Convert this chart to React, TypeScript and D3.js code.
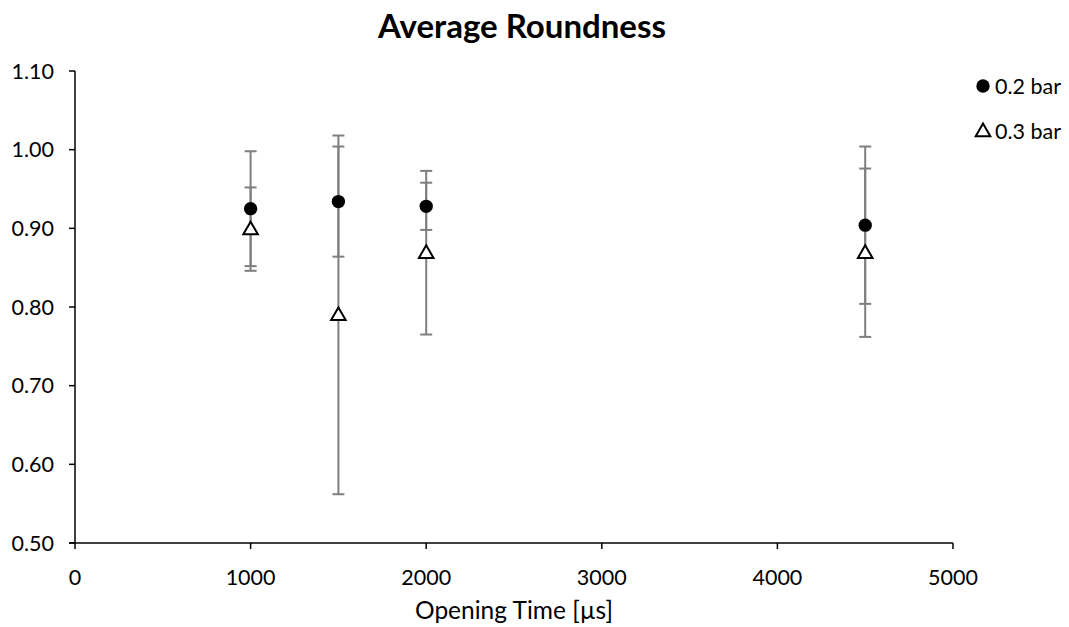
import React from 'react';
import * as d3 from 'd3';

// opening times [µs]
const times = [1000, 1500, 2000, 4500];
// 0.2 bar series
const mean02 = [0.925, 0.934, 0.928, 0.904];
const err02 = [0.073, 0.07, 0.03, 0.1];
// 0.3 bar series
const mean03 = [0.899, 0.79, 0.869, 0.869];
const err03 = [0.053, 0.228, 0.104, 0.107];

const xTicks = [0, 1000, 2000, 3000, 4000, 5000];
const yTicks = [0.5, 0.6, 0.7, 0.8, 0.9, 1.0, 1.1];

const W = 1069;
const H = 627;
const FONT = 'Lato, "Open Sans", sans-serif';

export default function App() {
  const x = d3.scaleLinear().domain([0, 5000]).range([75, 953]);
  const y = d3.scaleLinear().domain([0.5, 1.1]).range([543, 71]);

  const series = [
    { name: '0.2 bar', mean: mean02, err: err02, shape: 'circle' },
    { name: '0.3 bar', mean: mean03, err: err03, shape: 'triangle' },
  ];

  const circlePath = d3.symbol(d3.symbolCircle, 140)()!;
  const triPath = d3.symbol(d3.symbolTriangle, 92)()!;

  const marker = (shape: string, cx: number, cy: number, key: string) =>
    shape === 'circle' ? (
      <path key={key} d={circlePath} transform={`translate(${cx},${cy})`} fill="#000" />
    ) : (
      <path key={key} d={triPath} transform={`translate(${cx},${cy + 1})`} fill="#fff" stroke="#000" strokeWidth={2} />
    );

  const capW = 6;

  return (
    <svg width={W} height={H} style={{ position: 'absolute', left: 0, top: 0, background: '#fff' }} fontFamily={FONT}>
      <text x={522} y={38} textAnchor="middle" fontSize={33} fontWeight="bold" fill="#000">
        Average Roundness
      </text>

      {/* y axis */}
      <line x1={x(0)} x2={x(0)} y1={y(1.1)} y2={y(0.5)} stroke="#000" strokeWidth={1.5} />
      {yTicks.map(t => (
        <g key={t}>
          <line x1={x(0) - 6} x2={x(0)} y1={y(t)} y2={y(t)} stroke="#000" strokeWidth={1.5} />
          <text x={54} y={y(t)} dy="0.35em" textAnchor="end" fontSize={21.5} fill="#000">
            {t.toFixed(2)}
          </text>
        </g>
      ))}

      {/* x axis */}
      <line x1={x(0) - 6} x2={x(5000)} y1={y(0.5)} y2={y(0.5)} stroke="#000" strokeWidth={1.5} />
      {xTicks.map(t => (
        <g key={t}>
          <line x1={x(t)} x2={x(t)} y1={y(0.5)} y2={y(0.5) + 6} stroke="#000" strokeWidth={1.5} />
          <text x={x(t)} y={577} dy="0.35em" textAnchor="middle" fontSize={21.5} fill="#000">
            {t}
          </text>
        </g>
      ))}
      <text x={514} y={610} dy="0.35em" textAnchor="middle" fontSize={24.5} fill="#000">
        Opening Time [µs]
      </text>

      {/* error bars */}
      {series.map(s =>
        times.map((t, i) => {
          const cx = x(t);
          const top = y(s.mean[i] + s.err[i]);
          const bot = y(s.mean[i] - s.err[i]);
          return (
            <g key={s.name + t} stroke="#7f7f7f" strokeWidth={2}>
              <line x1={cx} x2={cx} y1={top} y2={bot} />
              <line x1={cx - capW} x2={cx + capW} y1={top} y2={top} />
              <line x1={cx - capW} x2={cx + capW} y1={bot} y2={bot} />
            </g>
          );
        })
      )}

      {/* markers */}
      {series.map(s => times.map((t, i) => marker(s.shape, x(t), y(s.mean[i]), s.name + 'm' + t)))}

      {/* legend */}
      {series.map((s, i) => (
        <g key={s.name}>
          {marker(s.shape, 983, 86 + i * 45, 'lg' + i)}
          <text x={995} y={86 + i * 45} dy="0.35em" fontSize={21.5} fill="#000">
            {s.name}
          </text>
        </g>
      ))}
    </svg>
  );
}
